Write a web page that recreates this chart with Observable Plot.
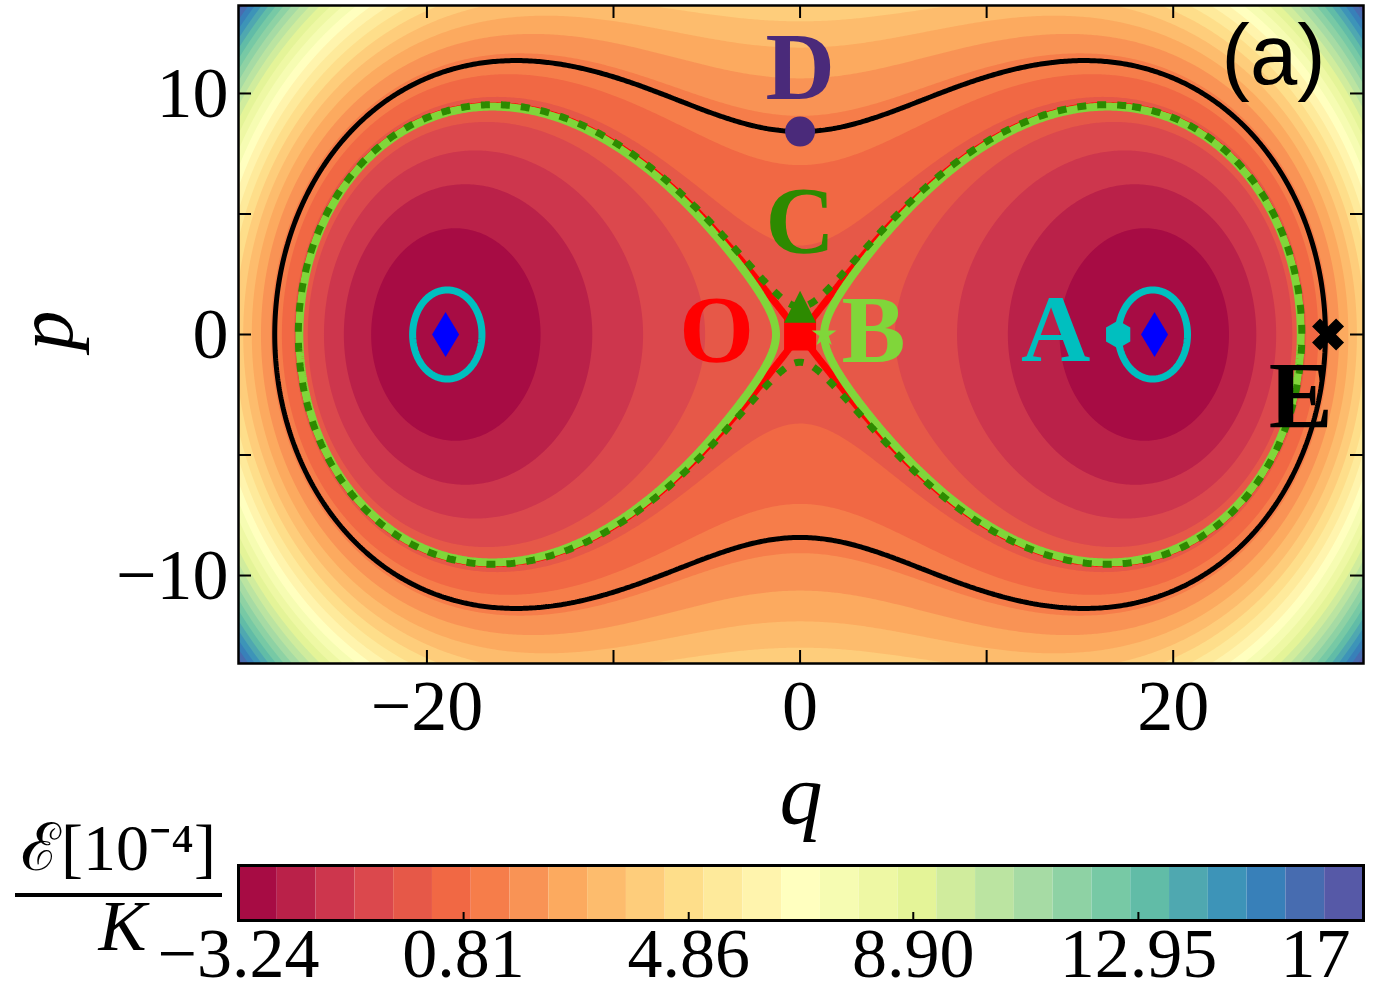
<!DOCTYPE html>
<html>
<head>
<meta charset="utf-8">
<script src="https://cdn.jsdelivr.net/npm/d3@7"></script>
<script src="https://cdn.jsdelivr.net/npm/@observablehq/plot@0.6"></script>
<style>
  body { margin: 0; background: #fff; }
  #chart { width: 1378px; height: 992px; }
  #chart svg { display: block; overflow: visible; }
</style>
</head>
<body>
<div id="chart"></div>
<script>
// Phase-space energy landscape of a two-photon driven Kerr oscillator,
// E(q, p) in units of 1e-4 K, with two wells at (±wellQ, 0) and a saddle at the origin.
const wellQ = 19;
const wellDepth = -3.24;

// Axis extents and ticks
const qDomain = [-30.1, 30.2];
const pDomain = [-13.65, 13.65];
const qTicks = [-20, -10, 0, 10, 20];
const qTickLabels = ["−20", "0", "20"];
const qLabelTicks = [-20, 0, 20];
const pTicks = [-10, -5, 0, 5, 10];
const pLabelTicks = [-10, 0, 10];
const pTickLabels = ["−10", "0", "10"];

// Colour levels of the filled contours
const levelMin = -3.24;
const levelMax = 17;
const bandCount = 29;
const colorTicks = [-3.24, 0.81, 4.86, 8.90, 12.95, 17];
const colorTickLabels = ["−3.24", "0.81", "4.86", "8.90", "12.95", "17"];

// Marked states
const markerNames = ["O", "C", "B", "D", "A", "E"];
const markerQ = [0, 0, 1.29, 0, 17.05, 28.3];
const markerP = [0, 1.15, 0, 8.42, 0, 0];
const markerColors = ["#ff0000", "#2d8a00", "#80d63a", "#4a2a7a", "#00bfbf", "#000000"];
const labelQ = [-4.48, 0, 3.94, 0, 13.7, 26.84];
const labelP = [0.12, 4.65, 0.12, 11.06, 0.17, -2.61];
// Classical fixed points (well bottoms)
const minimaQ = [-19, 19];
const minimaP = [0, 0];

const serif = "Liberation Serif, Times New Roman, serif";

function energy(q, p) {
  const u = (q * q + p * p) / (wellQ * wellQ);
  const v = (q * q - p * p) / (wellQ * wellQ);
  return -wellDepth * (u * u - 2 * v);
}
const negEnergy = (q, p) => -energy(q, p);

const thresholds = d3.range(bandCount + 1).map(i => levelMin + i * (levelMax - levelMin) / bandCount);
const spectral = d3.scaleLinear()
  .domain(d3.range(11).map(i => i / 10))
  .range(d3.schemeSpectral[11])
  .interpolate(d3.interpolateRgb);
const bandColors = d3.range(bandCount).map(i => spectral((i + 0.5) / bandCount));

// marker shapes, scaled by the dot radius
const polygon = pts => ({
  draw(ctx, size) {
    const r = Math.sqrt(size / Math.PI);
    pts.forEach(([x, y], k) => k ? ctx.lineTo(x * r, y * r) : ctx.moveTo(x * r, y * r));
    ctx.closePath();
  }
});
const thinDiamond = polygon([[0, -1], [0.6, 0], [0, 1], [-0.6, 0]]);
const square = polygon([[-1, -1], [1, -1], [1, 1], [-1, 1]]);
const triangleUp = polygon([[0, -1], [1, 1], [-1, 1]]);
const hexagon = polygon(d3.range(6).map(k => [Math.cos((k * 60 - 90) * Math.PI / 180), Math.sin((k * 60 - 90) * Math.PI / 180)]));
const star = polygon(d3.range(10).map(k => {
  const a = (k * 36 - 90) * Math.PI / 180, r = k % 2 ? 0.382 : 1;
  return [r * Math.cos(a), r * Math.sin(a)];
}));
const plusPts = (a, b) => [[b, -a], [b, -b], [a, -b], [a, b], [b, b], [b, a], [-b, a], [-b, b], [-a, b], [-a, -b], [-b, -b], [-b, -a]];
const filledX = polygon(plusPts(1, 0.33).map(([x, y]) => [(x - y) / Math.SQRT2, (x + y) / Math.SQRT2]));

const markerSymbols = [square, triangleUp, star, "circle", hexagon, filledX];
const markerRadii = [16, 16, 13, 15, 14, 17];

const idx = name => markerNames.indexOf(name);
const levelAt = name => energy(markerQ[idx(name)], markerP[idx(name)]);

const frameBox = {x1: qDomain[0], x2: qDomain[1], y1: pDomain[0], y2: pDomain[1]};
const levelLine = (name, stroke, strokeWidth, extra = {}) =>
  Plot.contour({...frameBox, value: negEnergy, thresholds: [-levelAt(name)], fill: "none", stroke, strokeWidth, ...extra});

const main = Plot.plot({
  width: 1378,
  height: 850,
  marginLeft: 238,
  marginRight: 15,
  marginTop: 5,
  marginBottom: 187,
  x: {domain: qDomain},
  y: {domain: pDomain},
  color: {type: "threshold", domain: thresholds.slice(1, -1), range: bandColors},
  style: {overflow: "visible", background: "white"},
  marks: [
    Plot.frame({fill: bandColors[0]}),
    Plot.contour({...frameBox, fill: energy, thresholds, pixelSize: 2}),
    levelLine("O", "#ff0000", 7),
    levelLine("B", "#80d63a", 8),
    levelLine("C", "#2d8a00", 7, {strokeDasharray: "9,11"}),
    levelLine("D", "#000000", 5),
    levelLine("A", "#00bfbf", 7),
    ...markerNames.map((n, i) => Plot.dot([i], {
      x: () => markerQ[i], y: () => markerP[i],
      symbol: markerSymbols[i], r: markerRadii[i], fill: markerColors[i], stroke: "none"
    })),
    Plot.dot(minimaQ.map((q, i) => i), {
      x: i => minimaQ[i], y: i => minimaP[i],
      symbol: thinDiamond, r: 22.5, fill: "#0000ff", stroke: "none"
    }),
    ...markerNames.map((n, i) => Plot.text([n], {
      x: () => labelQ[i], y: () => labelP[i],
      fill: markerColors[i], fontFamily: serif, fontWeight: "bold", fontSize: 96,
      textAnchor: "middle", lineAnchor: "middle"
    })),
    Plot.text(["(a)"], {
      frameAnchor: "top-right", dx: -38, dy: 18, textAnchor: "end", lineAnchor: "top",
      fontFamily: "Liberation Sans, Arial, sans-serif", fontSize: 85, fill: "black"
    }),
    // inward ticks on all four sides
    Plot.ruleX(qTicks, {insetTop: 645, stroke: "black", strokeWidth: 2}),
    Plot.ruleX(qTicks, {insetBottom: 645, stroke: "black", strokeWidth: 2}),
    Plot.ruleY(pTicks, {insetRight: 1112, stroke: "black", strokeWidth: 2}),
    Plot.ruleY(pTicks, {insetLeft: 1112, stroke: "black", strokeWidth: 2}),
    Plot.frame({stroke: "black", strokeWidth: 2.5}),
    Plot.axisX(qLabelTicks, {
      tickSize: 0, tickPadding: 15, label: null, fontSize: 72, fontFamily: serif, fill: "black",
      tickFormat: d => qTickLabels[qLabelTicks.indexOf(d)]
    }),
    Plot.axisY(pLabelTicks, {
      tickSize: 0, tickPadding: 10, label: null, fontSize: 72, fontFamily: serif, fill: "black",
      tickFormat: d => pTickLabels[pLabelTicks.indexOf(d)]
    }),
    Plot.text(["q"], {
      frameAnchor: "bottom", dy: 132, fontFamily: serif, fontStyle: "italic", fontSize: 86,
      lineAnchor: "middle", fill: "black"
    }),
    Plot.text(["p"], {
      frameAnchor: "left", dx: -192, dy: 16, rotate: -90, fontFamily: serif, fontStyle: "italic", fontSize: 80,
      lineAnchor: "middle", fill: "black"
    })
  ]
});

// Colour bar with its label
const bar = Plot.plot({
  width: 1378,
  height: 142,
  marginLeft: 238,
  marginRight: 15,
  marginTop: 15,
  marginBottom: 72,
  x: {domain: [levelMin, levelMax], axis: null},
  color: {type: "identity"},
  style: {overflow: "visible"},
  marks: [
    Plot.barX(d3.range(bandCount), {
      x1: i => thresholds[i], x2: i => thresholds[i + 1], fill: i => bandColors[i]
    }),
    Plot.ruleX(colorTicks, {insetTop: 47, stroke: "black", strokeWidth: 2}),
    Plot.frame({stroke: "black", strokeWidth: 3}),
    Plot.text(colorTicks.slice(0, -1), {
      x: d => d, text: (d, i) => colorTickLabels[i], frameAnchor: "bottom", dy: 7,
      lineAnchor: "top", textAnchor: "middle", fontFamily: serif, fontSize: 70, fill: "black"
    }),
    Plot.text(colorTicks.slice(-1), {
      x: d => d, text: () => colorTickLabels[colorTickLabels.length - 1], frameAnchor: "bottom", dy: 7, dx: -13,
      lineAnchor: "top", textAnchor: "end", fontFamily: serif, fontSize: 70, fill: "black"
    }),
    Plot.text(["ℰ[10⁻⁴]"], {
      frameAnchor: "top-left", dx: -120, dy: -17, textAnchor: "middle", lineAnchor: "middle",
      fontFamily: serif, fontSize: 66, fill: "black"
    }),
    Plot.text(["K"], {
      frameAnchor: "top-left", dx: -116, dy: 61, textAnchor: "middle", lineAnchor: "middle",
      fontFamily: serif, fontStyle: "italic", fontSize: 72, fill: "black"
    })
  ]
});
// fraction bar of the colour-bar label
d3.select(bar).append("line")
  .attr("x1", 15).attr("x2", 222).attr("y1", 45).attr("y2", 45)
  .attr("stroke", "black").attr("stroke-width", 4);

document.getElementById("chart").append(main, bar);
</script>
</body>
</html>
